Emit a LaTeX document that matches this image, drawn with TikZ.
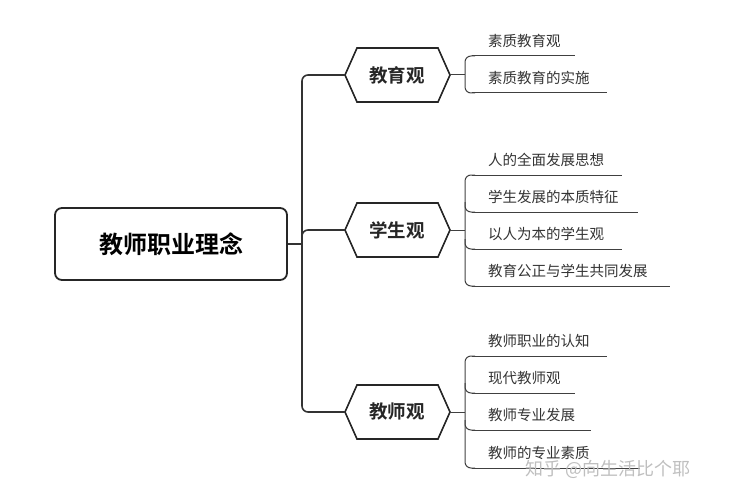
\documentclass[tikz,border=0pt]{standalone}
\usepackage{fontspec}
\setmainfont{Noto Sans CJK SC}
\newfontfamily\cjkb{Noto Sans CJK SC Bold}
\begin{document}
\begin{tikzpicture}[x=1pt,y=-1pt,
  ln/.style={line width=1.6pt,color=black!80,rounded corners=6pt},
  leafline/.style={line width=1pt,color=black!75},
  leaf/.style={anchor=west,inner sep=0pt,font=\fontsize{14.5}{15}\selectfont,text=black!80},
  hexa/.style={draw=black!85,line width=1.6pt,fill=white}]
\useasboundingbox (0,0) rectangle (738,500);
\node[draw=black!85,line width=1.8pt,rounded corners=7pt,minimum width=232pt,minimum height=72pt,font=\cjkb\fontsize{24}{26}\selectfont] (root) at (171,244) {教师职业理念};
\coordinate (t) at (302,244);
\draw[ln] (root.east) -- (t);
\foreach \n/\y/\t in {a/75/教育观,b/230/学生观,c/412/教师观}{
  \draw[hexa] (345,\y) -- (357,\y-27) -- (438,\y-27) -- (450,\y) -- (438,\y+27) -- (357,\y+27) -- cycle;
  \node[font=\cjkb\fontsize{18.5}{20}\selectfont,text=black!85] (\n) at (397,\y) {\t};
  \coordinate (\n r) at (450,\y);
  \coordinate (\n b) at (465,\y);
  \draw[leafline] (\n r) -- (\n b);
}
\draw[ln] (345,75) -- (302,75) -- (302,412) -- (345,412);
\draw[ln] (t) -- (302,230) -- (345,230);
\foreach \y/\e/\t in {56/575/素质教育观,93/607/素质教育的实施,175/622/人的全面发展思想,212/638/学生发展的本质特征,249/622/以人为本的学生观,286/670/教育公正与学生共同发展,356/607/教师职业的认知,393/575/现代教师观,430/591/教师专业发展,468/640/教师的专业素质}{
  \node[leaf] (l\y) at (488,\y-15) {\t};
  \draw[leafline] (472,\y) -- (\e,\y);
}
\draw[leafline,rounded corners=6pt] (475,56) -- (465,56) -- (465,93) -- (475,93);
\draw[leafline,rounded corners=6pt] (475,175) -- (465,175) -- (465,286) -- (475,286);
\foreach \y in {212,249}{\draw[leafline,rounded corners=6pt] (465,\y-10) -- (465,\y) -- (475,\y);}
\draw[leafline,rounded corners=6pt] (475,356) -- (465,356) -- (465,468) -- (475,468);
\foreach \y in {393,430}{\draw[leafline,rounded corners=6pt] (465,\y-10) -- (465,\y) -- (475,\y);}
\node[anchor=west,font=\fontsize{18}{19}\selectfont,text=black!25] (wm) at (522,469) {知乎 @向生活比个耶};
\end{tikzpicture}
\end{document}
